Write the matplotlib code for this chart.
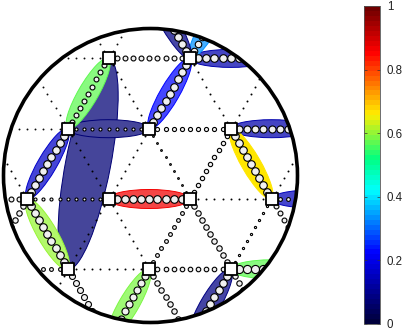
import numpy as np
import matplotlib
matplotlib.use('Agg')
import matplotlib.pyplot as plt
from matplotlib.patches import Circle, Ellipse
from matplotlib.colors import LinearSegmentedColormap, Normalize
from matplotlib.cm import ScalarMappable

plt.rcParams['font.family'] = ['Liberation Sans', 'DejaVu Sans']

# sites, lattice coordinates: h is half columns, r is rows
site_h = [2, 4, 1, 3, 5, 0, 2, 4, 6, 1, 3, 5]
site_r = [2, 2, 1, 1, 1, 0, 0, 0, 0, -1, -1, -1]

# flat bonds, start site and dot diameter
flat_h = [0, 2, 4, -1, 1, 3, 5, -2, 0, 2, 4, 6, -1, 1, 3, 5]
flat_r = [2, 2, 2, 1, 1, 1, 1, 0, 0, 0, 0, 0, -1, -1, -1, -1]
flat_size = [0.7, 4.5, 7.0, 0.7, 2.8, 3.8, 6.5, 4.5, 2.8, 7.0, 0.8, 3.5, 3.5, 0.8, 4.2, 7.5]

# bonds going up to the right
up_h = [2, 4, 1, 3, 5, 0, 2, 4, 6, -1, 1, 3, 5, 0, 2, 4]
up_r = [2, 2, 1, 1, 1, 0, 0, 0, 0, -1, -1, -1, -1, -2, -2, -2]
up_size = [0.7, 6.0, 4.5, 7.0, 0.8, 7.0, 0.8, 4.0, 0.8, 5.0, 0.8, 3.5, 2.0, 0.8, 6.5, 7.0]

# bonds going down to the right
down_h = [1, 3, 0, 2, 4, 6, -1, 1, 3, 5, 7, 0, 2, 4, 6, 1, 3, 5]
down_r = [3, 3, 2, 2, 2, 2, 1, 1, 1, 1, 1, 0, 0, 0, 0, -1, -1, -1]
down_size = [0.7, 7.0, 0.7, 0.8, 0.8, 0.8, 0.8, 0.8, 1.6, 7.0, 0.8, 7.0, 0.8, 5.0, 4.5, 5.5, 5.0, 5.0]

# ellipses: two end sites, colour value, width in pixels
ell_h0 = [2, 1, 3, 4, 4, 4, 5, 1, 0, 5, 0, 6, 2, 3, 5, 5]
ell_r0 = [2, 1, 1, 2, 2, 2, 1, 1, 0, 1, 0, 0, 0, -1, -1, -1]
ell_h1 = [1, 3, 4, 6, 5, 3, 7, 2, 1, 6, 1, 8, 4, 2, 4, 7]
ell_r1 = [-1, 1, 2, 2, 3, 3, 1, 2, 1, 0, -1, 0, 0, -2, -2, -1]
ell_val = [0.07, 0.07, 0.22, 0.13, 0.33, 0.09, 0.13, 0.57, 0.17, 0.66, 0.60, 0.15, 0.87, 0.58, 0.08, 0.57]
ell_w = [45, 18, 19, 18, 18, 18, 18, 20, 19, 19, 20, 18, 19, 20, 20, 19]

cbar_ticks = [0, 0.2, 0.4, 0.6, 0.8, 1]
cbar_labels = ['0', '0.2', '0.4', '0.6', '0.8', '1']

cmap = LinearSegmentedColormap.from_list('jetish', [
    (0.0, '#00003c'), (0.22, '#0000ff'), (0.42, '#00ffff'), (0.52, '#00ff80'),
    (0.66, '#ffee00'), (0.86, '#ff0000'), (1.0, '#700000')], N=64)
norm = Normalize(0, 1)

X0, DX, Y0, DY = 27.0, 40.75, 199.0, 70.3
CX, CY, RAD = 150.5, 175.5, 147.0


def px(h):
    return X0 + DX * np.asarray(h, dtype=float)


def py(r):
    return Y0 - DY * np.asarray(r, dtype=float)


fig = plt.figure(figsize=(4.18, 3.32), dpi=100)
ax = fig.add_axes([0, 0, 1, 1])
ax.set_xlim(0, 418)
ax.set_ylim(332, 0)
ax.axis('off')

clip = Circle((CX, CY), RAD, transform=ax.transData)

for a, b, c, d, v, w in zip(ell_h0, ell_r0, ell_h1, ell_r1, ell_val, ell_w):
    x0, y0, x1, y1 = px(a), py(b), px(c), py(d)
    col = np.array(cmap(norm(v))[:3])
    # flat pale tint, overlaps do not get darker
    mix = 0.0 if v == 0.66 else 0.27
    face = col * (1 - mix) + mix
    length = np.hypot(x1 - x0, y1 - y0)
    ang = np.degrees(np.arctan2(y1 - y0, x1 - x0))
    e = Ellipse(((x0 + x1) / 2, (y0 + y1) / 2), length, w, angle=ang,
                facecolor=face, edgecolor=col, lw=0.7, zorder=2)
    ax.add_patch(e)
    e.set_clip_path(clip)

frac = np.arange(1, 10) / 10


def draw_bonds(hs, rs, sizes, dh, dr):
    for h, r, s in zip(hs, rs, sizes):
        pts = ax.scatter(px(h + dh * frac), py(r + dr * frac), s=(s * 0.78) ** 2,
                         facecolor='#f0f0f0', edgecolor='black', linewidths=0.8, zorder=3)
        pts.set_clip_path(clip)


draw_bonds(flat_h, flat_r, flat_size, 2, 0)
draw_bonds(up_h, up_r, up_size, 1, 1)
draw_bonds(down_h, down_r, down_size, 1, -1)

ax.scatter(px(site_h), py(site_r), s=72, marker='s', facecolor='white', edgecolor='black',
           linewidths=1.3, zorder=4)

ax.add_patch(Circle((CX, CY), RAD, fill=False, edgecolor='black', lw=2.6, zorder=5))

cax = fig.add_axes([364 / 418, 1 - 324 / 332, 16 / 418, 318 / 332])
cb = fig.colorbar(ScalarMappable(norm=norm, cmap=cmap), cax=cax, ticks=cbar_ticks)
cb.ax.set_yticklabels(cbar_labels)
cb.ax.tick_params(direction='in', length=2.5, width=0.5, labelsize=8.3, pad=5,
                  left=True, right=True, color='#333333', labelcolor='#222222')
cb.outline.set_linewidth(0.6)
cb.outline.set_edgecolor('#555555')

fig.savefig('out.png', dpi=100)
